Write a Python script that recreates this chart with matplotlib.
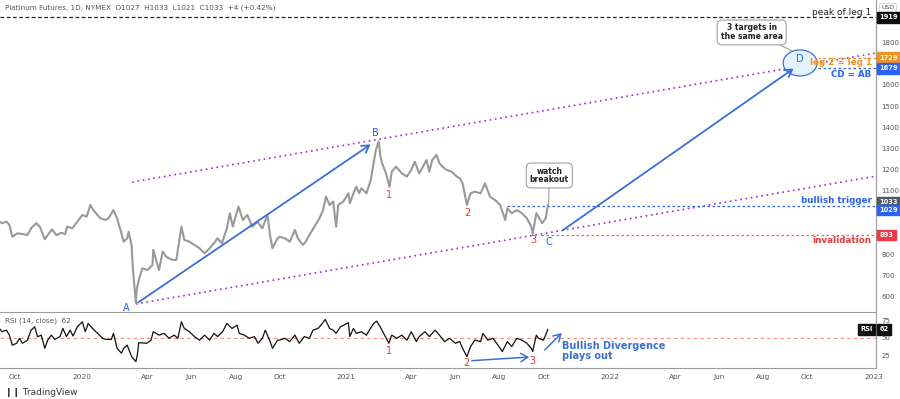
import numpy as np
import pandas as pd
import matplotlib
matplotlib.use("Agg")
import matplotlib.pyplot as plt
import matplotlib.dates as mdates
from matplotlib.patches import Ellipse

# price closes (Platinum futures, daily)
price_dates = [
    "2019-09-09", "2019-09-13", "2019-09-19", "2019-09-23", "2019-09-27", "2019-10-04",
    "2019-10-11", "2019-10-18", "2019-10-23", "2019-10-30", "2019-11-04", "2019-11-11",
    "2019-11-15", "2019-11-21", "2019-11-27", "2019-12-04", "2019-12-09", "2019-12-12",
    "2019-12-19", "2019-12-26", "2020-01-02", "2020-01-08", "2020-01-13", "2020-01-17",
    "2020-01-27", "2020-02-03", "2020-02-07", "2020-02-14", "2020-02-19", "2020-02-25",
    "2020-02-28", "2020-03-04", "2020-03-06", "2020-03-10", "2020-03-12", "2020-03-16",
    "2020-03-17", "2020-03-20", "2020-03-25", "2020-04-01", "2020-04-08", "2020-04-09",
    "2020-04-17", "2020-04-22", "2020-04-27", "2020-05-05", "2020-05-11", "2020-05-18",
    "2020-05-22", "2020-05-29", "2020-06-05", "2020-06-12", "2020-06-19", "2020-06-26",
    "2020-07-02", "2020-07-07", "2020-07-13", "2020-07-20", "2020-07-24", "2020-07-28",
    "2020-08-05", "2020-08-11", "2020-08-17", "2020-08-24", "2020-08-31", "2020-09-07",
    "2020-09-14", "2020-09-18", "2020-09-21", "2020-09-28", "2020-10-01", "2020-10-08",
    "2020-10-15", "2020-10-22", "2020-10-26", "2020-11-02", "2020-11-06", "2020-11-11",
    "2020-11-18", "2020-11-25", "2020-11-30", "2020-12-04", "2020-12-09", "2020-12-14",
    "2020-12-18", "2020-12-21", "2020-12-28", "2021-01-04", "2021-01-06", "2021-01-11",
    "2021-01-15", "2021-01-19", "2021-01-22", "2021-01-29", "2021-02-04", "2021-02-08",
    "2021-02-11", "2021-02-15", "2021-02-17", "2021-02-19", "2021-02-25", "2021-03-02",
    "2021-03-05", "2021-03-11", "2021-03-19", "2021-03-26", "2021-04-01", "2021-04-06",
    "2021-04-12", "2021-04-16", "2021-04-22", "2021-04-26", "2021-04-30", "2021-05-06",
    "2021-05-10", "2021-05-14", "2021-05-20", "2021-05-27", "2021-06-03", "2021-06-07",
    "2021-06-11", "2021-06-17", "2021-06-22", "2021-06-28", "2021-07-06", "2021-07-12",
    "2021-07-19", "2021-07-26", "2021-08-02", "2021-08-09", "2021-08-12", "2021-08-18",
    "2021-08-25", "2021-09-01", "2021-09-08", "2021-09-14", "2021-09-16", "2021-09-21",
    "2021-09-24", "2021-09-29", "2021-10-04", "2021-10-07",
]
price_close = [
    955, 948, 955, 940, 884, 900,
    897, 892, 924, 948, 932, 872,
    892, 919, 892, 903, 896, 932,
    924, 955, 987, 979, 1034, 1010,
    971, 963, 971, 1010, 971, 900,
    861, 877, 908, 845, 727, 572,
    633, 680, 735, 727, 751, 822,
    727, 814, 790, 775, 775, 932,
    869, 861, 845, 830, 806, 830,
    853, 877, 853, 924, 995, 932,
    1026, 963, 987, 932, 955, 924,
    987, 884, 830, 877, 884, 877,
    861, 916, 877, 845, 861, 892,
    932, 971, 1010, 1073, 1034, 1050,
    932, 1034, 1050, 1089, 1042, 1089,
    1120, 1089, 1113, 1089, 1152, 1231,
    1293, 1333, 1270, 1238, 1183, 1120,
    1191, 1215, 1183, 1168, 1199, 1238,
    1183, 1207, 1246, 1191, 1246, 1270,
    1231, 1215, 1199, 1191, 1168, 1160,
    1136, 1034, 1089, 1097, 1089, 1136,
    1073, 1057, 1034, 963, 1018, 995,
    1010, 995, 971, 932, 897, 995,
    979, 948, 971, 1033,
]

rsi_dates = [
    "2019-09-09", "2019-09-13", "2019-09-19", "2019-09-23", "2019-09-27", "2019-10-03",
    "2019-10-07", "2019-10-11", "2019-10-18", "2019-10-23", "2019-10-28", "2019-11-01",
    "2019-11-06", "2019-11-11", "2019-11-15", "2019-11-20", "2019-11-25", "2019-12-02",
    "2019-12-06", "2019-12-11", "2019-12-16", "2019-12-20", "2019-12-26", "2020-01-02",
    "2020-01-06", "2020-01-10", "2020-01-16", "2020-01-23", "2020-01-30", "2020-02-04",
    "2020-02-11", "2020-02-14", "2020-02-19", "2020-02-25", "2020-02-28", "2020-03-04",
    "2020-03-10", "2020-03-16", "2020-03-18", "2020-03-20", "2020-03-31", "2020-04-06",
    "2020-04-09", "2020-04-17", "2020-04-24", "2020-05-01", "2020-05-08", "2020-05-13",
    "2020-05-18", "2020-05-22", "2020-05-29", "2020-06-05", "2020-06-12", "2020-06-19",
    "2020-06-26", "2020-07-02", "2020-07-07", "2020-07-14", "2020-07-20", "2020-07-27",
    "2020-08-03", "2020-08-06", "2020-08-13", "2020-08-20", "2020-08-27", "2020-09-01",
    "2020-09-07", "2020-09-11", "2020-09-17", "2020-09-21", "2020-09-28", "2020-10-01",
    "2020-10-08", "2020-10-15", "2020-10-22", "2020-10-28", "2020-11-04", "2020-11-11",
    "2020-11-16", "2020-11-23", "2020-11-27", "2020-12-03", "2020-12-09", "2020-12-14",
    "2020-12-18", "2020-12-24", "2021-01-04", "2021-01-06", "2021-01-11", "2021-01-15",
    "2021-01-22", "2021-01-29", "2021-02-02", "2021-02-08", "2021-02-12", "2021-02-17",
    "2021-02-23", "2021-03-01", "2021-03-05", "2021-03-12", "2021-03-19", "2021-03-26",
    "2021-04-01", "2021-04-08", "2021-04-12", "2021-04-20", "2021-04-26", "2021-05-04",
    "2021-05-10", "2021-05-17", "2021-05-24", "2021-06-01", "2021-06-07", "2021-06-11",
    "2021-06-17", "2021-06-22", "2021-06-28", "2021-07-06", "2021-07-09", "2021-07-16",
    "2021-07-23", "2021-07-30", "2021-08-05", "2021-08-12", "2021-08-18", "2021-08-25",
    "2021-09-01", "2021-09-08", "2021-09-14", "2021-09-16", "2021-09-21", "2021-09-24",
    "2021-10-01", "2021-10-07",
]
rsi_values = [
    63.4, 58.8, 61, 54, 40, 42.6,
    49.6, 42.6, 47, 61, 65.7, 51.8,
    54, 35.6, 47, 54, 48, 52,
    63.4, 52, 61, 52.8, 65.7, 72.6,
    58.8, 70.4, 63.4, 56.5, 49.6, 48,
    48, 56.5, 35.6, 28.7, 35.6, 40,
    24, 17, 26.4, 43.5, 42.6, 47,
    58.8, 54, 56.5, 49.6, 54, 49.6,
    72.6, 63.4, 58.8, 52, 47, 54,
    47, 56.5, 52, 58.8, 70.4, 63.4,
    68, 56.5, 54, 49.6, 52, 42.6,
    49.6, 61, 47, 35.6, 47, 47,
    49.6, 45, 54, 42.6, 52, 49.6,
    61, 63.4, 68, 76, 63.4, 61,
    56.5, 65.7, 71.3, 52, 63.4, 56.5,
    58.8, 54, 61, 70.4, 73.6, 65.7,
    54, 42.6, 54, 49.6, 54, 47,
    58.8, 45, 52, 58.8, 52, 61,
    54, 45, 49.6, 42.6, 45, 35.6,
    24, 38, 47, 45, 56.5, 47,
    49.6, 40, 31, 45, 38, 49.6,
    47, 42.6, 35.6, 31, 54, 49.6,
    47, 62,
]

# drawing tools on the chart
upper_channel = [("2020-03-11", 1142), ("2023-01-04", 1751)]
lower_channel = [("2020-03-16", 567), ("2023-01-04", 1170)]
arrow_ab = [("2020-03-16", 567), ("2021-02-07", 1327)]
arrow_cd = [("2021-10-24", 906), ("2022-09-15", 1685)]
peak_leg1 = 1919
leg2_eq_leg1 = 1729
cd_eq_ab = 1679
bullish_trigger = 1029
invalidation = 893
last_close = 1033
last_rsi = 62

x_ticks = ["2019-10-01", "2020-01-01", "2020-04-01", "2020-06-01", "2020-08-01", "2020-10-01",
           "2021-01-01", "2021-04-01", "2021-06-01", "2021-08-01", "2021-10-01", "2022-01-01",
           "2022-04-01", "2022-06-01", "2022-08-01", "2022-10-01", "2023-01-01"]
x_labels = ["Oct", "2020", "Apr", "Jun", "Aug", "Oct", "2021", "Apr", "Jun", "Aug", "Oct",
            "2022", "Apr", "Jun", "Aug", "Oct", "2023"]
price_ticks = [600, 700, 800, 1100, 1200, 1300, 1400, 1500, 1600, 1800]
rsi_ticks = [25, 50, 75]


def d(s):
    return mdates.date2num(pd.Timestamp(s))


BLUE = "#2962ff"
ABLUE = "#3b6fd8"
RED = "#e53935"
ORANGE = "#f5921e"
PURPLE = "#a32bc4"
GREY = "#555555"

plt.rcParams["font.family"] = "DejaVu Sans"
fig = plt.figure(figsize=(9, 3.99), dpi=100)
ax = fig.add_axes([0, 87 / 399, 876 / 900, 312 / 399])
rx = fig.add_axes([0, 31 / 399, 876 / 900, 55 / 399], sharex=ax)

xmin, xmax = d("2019-09-10"), d("2023-01-04")

# --- price panel
px = [d(s) for s in price_dates]
ax.plot(px, price_close, color="#999999", lw=1.5, zorder=3)
ax.set_xlim(xmin, xmax)
ax.set_ylim(529, 2001)

for seg in (upper_channel, lower_channel):
    ax.plot([d(seg[0][0]), d(seg[1][0])], [seg[0][1], seg[1][1]], color=PURPLE,
            lw=1.2, linestyle=(0, (1, 2.2)), zorder=2)

for seg in (arrow_ab, arrow_cd):
    ax.annotate("", xy=(d(seg[1][0]), seg[1][1]), xytext=(d(seg[0][0]), seg[0][1]),
                arrowprops=dict(arrowstyle="->,head_length=0.5,head_width=0.3",
                                color=ABLUE, lw=1.3), zorder=4)

ax.axhline(peak_leg1, color="#222222", lw=0.9, linestyle=(0, (3, 2)))
ax.plot([d("2021-08-12"), xmax], [bullish_trigger] * 2, color=BLUE, lw=0.9,
        linestyle=(0, (2, 2)))
ax.plot([d("2021-09-27"), xmax], [invalidation] * 2, color="#f0625a", lw=0.9,
        linestyle=(0, (2, 2)))
ax.plot([d("2022-10-02"), xmax], [leg2_eq_leg1] * 2, color=ORANGE, lw=0.9,
        linestyle=(0, (2, 2)))
ax.plot([d("2022-10-02"), xmax], [cd_eq_ab] * 2, color=BLUE, lw=0.9,
        linestyle=(0, (2, 2)))

ell = Ellipse((d("2022-09-21"), 1704), 47, 123, facecolor="#e3f2fd",
              edgecolor=ABLUE, lw=0.9, zorder=3)
ax.add_patch(ell)
ax.text(d("2022-09-20"), 1722, "D", color=BLUE, fontsize=7, ha="center", va="center",
        zorder=5)

ax.text(d("2020-03-03"), 548, "A", color=BLUE, fontsize=7, ha="center", va="center")
ax.text(d("2021-02-11"), 1374, "B", color=BLUE, fontsize=7, ha="center", va="center")
ax.text(d("2021-10-08"), 859, "C", color=BLUE, fontsize=7, ha="center", va="center")
ax.text(d("2021-03-01"), 1081, "1", color=RED, fontsize=7, ha="center", va="center")
ax.text(d("2021-06-17"), 996, "2", color=RED, fontsize=7, ha="center", va="center")
ax.text(d("2021-09-17"), 869, "3", color=RED, fontsize=7, ha="center", va="center")

bbox_call = dict(boxstyle="round,pad=0.45,rounding_size=0.6", fc="white",
                 ec="#9e9e9e", lw=0.8)
ax.annotate("watch\nbreakout", xy=(d("2021-10-08"), 1039),
            xytext=(d("2021-10-09"), 1173), fontsize=5.5, fontweight="bold",
            ha="center", va="center", color="#222222", linespacing=1.0,
            bbox=bbox_call,
            arrowprops=dict(arrowstyle="-", color="#9e9e9e", lw=0.8,
                            shrinkA=0, shrinkB=0), zorder=6)
ax.annotate("3 targets in\nthe same area", xy=(d("2022-09-10"), 1760),
            xytext=(d("2022-07-16"), 1848), fontsize=5.5, fontweight="bold",
            ha="center", va="center", color="#222222", linespacing=1.0,
            bbox=bbox_call,
            arrowprops=dict(arrowstyle="-", color="#9e9e9e", lw=0.8,
                            shrinkA=0, shrinkB=0,
                            relpos=(0.85, 0.0)), zorder=6)

tr = ax.get_yaxis_transform()
ax.text(0.995, 1942, "peak of leg 1", transform=tr, ha="right", va="center",
        fontsize=6.5, color="#222222")
ax.text(0.995, 1704, "leg 2 = leg 1", transform=tr, ha="right", va="center",
        fontsize=6.3, color=ORANGE, fontweight="bold")
ax.text(0.995, 1648, "CD = AB", transform=tr, ha="right", va="center",
        fontsize=6.3, color=BLUE, fontweight="bold")
ax.text(0.995, 1053, "bullish trigger", transform=tr, ha="right", va="center",
        fontsize=6.3, color=BLUE, fontweight="bold")
ax.text(0.995, 864, "invalidation", transform=tr, ha="right", va="center",
        fontsize=6.3, color=RED, fontweight="bold")

ax.text(0.006, 0.985, "Platinum Futures, 1D, NYMEX  O1027  H1033  L1021  C1033  +4 (+0.42%)",
        transform=ax.transAxes, fontsize=5.2, color=GREY, va="top", ha="left")

ax.yaxis.tick_right()
ax.set_yticks(price_ticks)
ax.set_yticklabels([str(t) for t in price_ticks])
ax.tick_params(axis="y", length=0, pad=4, labelsize=5, labelcolor=GREY)
ax.tick_params(axis="x", bottom=False, labelbottom=False)
for s in ("top", "left"):
    ax.spines[s].set_visible(False)
ax.spines["right"].set_color("#9a9a9a")
ax.spines["bottom"].set_color("#9a9a9a")
ax.spines["right"].set_linewidth(0.8)
ax.spines["bottom"].set_linewidth(0.8)


def tag(axis, y, txt, fc, tc="white", x=1.004, ha="left"):
    axis.text(x, y, txt, transform=axis.get_yaxis_transform(), ha=ha,
              va="center", fontsize=4.8, color=tc, fontweight="bold",
              bbox=dict(boxstyle="square,pad=0.35", fc=fc, ec=fc), clip_on=False,
              zorder=10)


tag(ax, peak_leg1, str(peak_leg1), "#111111")
tag(ax, leg2_eq_leg1, str(leg2_eq_leg1), ORANGE)
tag(ax, cd_eq_ab, str(cd_eq_ab), BLUE)
tag(ax, last_close + 14, str(last_close), "#505865")
tag(ax, bullish_trigger - 18, str(bullish_trigger), BLUE)
tag(ax, invalidation, str(invalidation), "#f23645")
ax.text(1.006, 0.975, "USD", transform=ax.transAxes, ha="left", va="center",
        fontsize=4.6, color=GREY,
        bbox=dict(boxstyle="round,pad=0.3", fc="white", ec="#cfcfcf", lw=0.6),
        clip_on=False)

# --- RSI panel
rxd = [d(s) for s in rsi_dates]
rx.plot(rxd, rsi_values, color="#111111", lw=0.9, zorder=3)
rx.axhline(50, color="#f28b82", lw=0.8, linestyle=(0, (3, 3)))
rx.set_ylim(8, 85)
rx.set_xlim(xmin, xmax)

rx.text(d("2021-03-01"), 32, "1", color=RED, fontsize=7, ha="center", va="center")
rx.text(d("2021-06-16"), 15, "2", color=RED, fontsize=7, ha="center", va="center")
rx.text(d("2021-09-16"), 18, "3", color=RED, fontsize=7, ha="center", va="center")
rx.annotate("", xy=(d("2021-09-15"), 23.6), xytext=(d("2021-06-20"), 18),
            arrowprops=dict(arrowstyle="->,head_length=0.5,head_width=0.3",
                            color=ABLUE, lw=1.1), annotation_clip=False)
rx.annotate("", xy=(d("2021-10-29"), 59.7), xytext=(d("2021-09-30"), 30.6),
            arrowprops=dict(arrowstyle="->,head_length=0.5,head_width=0.3",
                            color=ABLUE, lw=1.1), annotation_clip=False)
rx.text(d("2021-10-27"), 32, "Bullish Divergence\nplays out", color=ABLUE,
        fontsize=7, fontweight="bold", ha="left", va="center", linespacing=1.0)
rx.text(0.006, 0.86, "RSI (14, close)  62", transform=rx.transAxes, fontsize=5.2,
        color=GREY, va="center", ha="left")

rx.yaxis.tick_right()
rx.set_yticks(rsi_ticks)
rx.tick_params(axis="y", length=0, pad=4, labelsize=5, labelcolor=GREY)
rx.set_xticks([d(s) for s in x_ticks])
rx.set_xticklabels(x_labels)
rx.tick_params(axis="x", length=0, pad=4, labelsize=5.3, labelcolor=GREY)
for s in ("top", "left"):
    rx.spines[s].set_visible(False)
rx.spines["right"].set_color("#9a9a9a")
rx.spines["bottom"].set_color("#9a9a9a")
rx.spines["right"].set_linewidth(0.8)
rx.spines["bottom"].set_linewidth(0.8)
tag(rx, last_rsi, "RSI", "#111111", x=0.996, ha="right")
tag(rx, last_rsi, str(last_rsi), "#111111")

fig.text(0.006, 0.017, "\u2759\u2759 TradingView", fontsize=6.5, color="#333333",
         va="center", ha="left")

fig.savefig("out.png", dpi=100, facecolor="white")
